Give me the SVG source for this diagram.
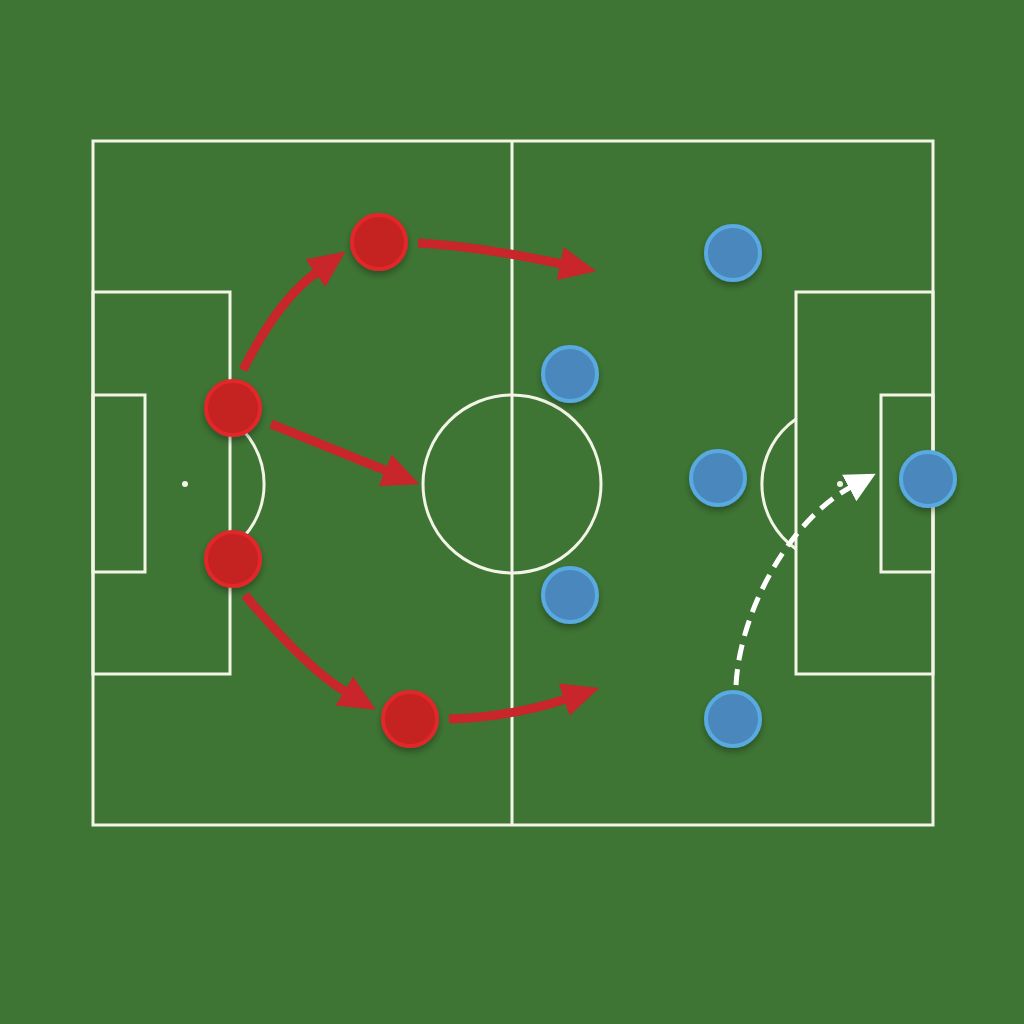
<svg xmlns="http://www.w3.org/2000/svg" width="1024" height="1024" viewBox="0 0 1024 1024">
<defs>
<style>
.line{fill:none;stroke:#f2f5e6;stroke-width:3}
.red{fill:#c52220;stroke:#e3262a;stroke-width:4}
.blue{fill:#4a87bd;stroke:#5aaae2;stroke-width:4}
.ra{fill:none;stroke:#c8262a;stroke-width:9}
.wa{fill:none;stroke:#ffffff;stroke-width:5;stroke-dasharray:16 9}
</style>
<marker id="rh" markerUnits="userSpaceOnUse" markerWidth="38" markerHeight="34" viewBox="0 0 38 34" refX="2" refY="17" orient="auto">
<path d="M0,0 L37,17 L0,34 z" fill="#c8262a"/>
</marker>
<marker id="wh" markerUnits="userSpaceOnUse" markerWidth="32" markerHeight="32" viewBox="0 0 32 32" refX="2" refY="16" orient="auto">
<path d="M0,1 L30,16 L0,31 z" fill="#ffffff"/>
</marker>
<filter id="sh" x="-50%" y="-50%" width="200%" height="200%">
<feDropShadow dx="0" dy="4" stdDeviation="3" flood-color="#000" flood-opacity="0.3"/>
</filter>
</defs>
<rect width="1024" height="1024" fill="#3e7434"/>
<g id="pitch">
<rect class="line" x="93" y="141" width="840" height="684"/>
<line class="line" x1="512" y1="141" x2="512" y2="825"/>
<circle class="line" cx="512" cy="484" r="89"/>
<rect class="line" x="93" y="292" width="137" height="382"/>
<rect class="line" x="93" y="395" width="52" height="177"/>
<rect class="line" x="796" y="292" width="137" height="382"/>
<rect class="line" x="881" y="395" width="52" height="177"/>
<path class="line" d="M230,419 A79,79 0 0 1 230,549"/>
<path class="line" d="M796,419 A79,79 0 0 0 796,549"/>
<circle cx="185" cy="484" r="3" fill="#f2f5e6"/>
<circle cx="840" cy="484" r="3" fill="#f2f5e6"/>
</g>
<g id="connectors">
<path class="ra" d="M243,370 Q278,300 317,272" marker-end="url(#rh)"/>
<path class="ra" d="M271,424 L387,471" marker-end="url(#rh)"/>
<path class="ra" d="M245,595 Q306,668 346,692" marker-end="url(#rh)"/>
<path class="ra" d="M418,243 Q477,246 562,264" marker-end="url(#rh)"/>
<path class="ra" d="M449,719 Q511,717 566,699" marker-end="url(#rh)"/>
<path class="wa" d="M736,685 C740,610 790,520 851,487" marker-end="url(#wh)"/>
</g>
<g id="red-players" filter="url(#sh)">
<g id="r1"><circle class="red" cx="379" cy="242" r="27"/></g>
<g id="r2"><circle class="red" cx="233" cy="408" r="27"/></g>
<g id="r3"><circle class="red" cx="233" cy="559" r="27"/></g>
<g id="r4"><circle class="red" cx="410" cy="719" r="27"/></g>
</g>
<g id="blue-players" filter="url(#sh)">
<g id="b1"><circle class="blue" cx="733" cy="253" r="27"/></g>
<g id="b2"><circle class="blue" cx="570" cy="374" r="27"/></g>
<g id="b3"><circle class="blue" cx="718" cy="478" r="27"/></g>
<g id="b4"><circle class="blue" cx="570" cy="595" r="27"/></g>
<g id="b5"><circle class="blue" cx="928" cy="479" r="27"/></g>
<g id="b6"><circle class="blue" cx="733" cy="719" r="27"/></g>
</g>
</svg>
